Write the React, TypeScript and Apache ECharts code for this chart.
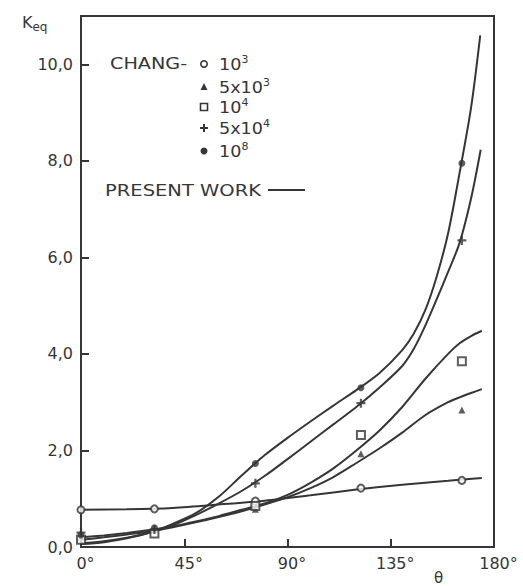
import React, { useEffect, useRef } from 'react';
import * as echarts from 'echarts';

// ---- data ----
const xTickValues = [0, 45, 90, 135, 180];
const yTickValues = [0, 2, 4, 6, 8, 10];

// CHANG data points (theta in degrees)
const changTheta = [0, 32, 76, 122, 166];
const chang1e3 = [0.77, 0.79, 0.95, 1.22, 1.38];
const chang5e3 = [0.2, 0.35, 0.78, 1.93, 2.84];
const chang1e4 = [0.15, 0.28, 0.85, 2.32, 3.85];
const chang5e4 = [0.3, 0.36, 1.32, 2.98, 6.35];
const chang1e8 = [0.25, 0.4, 1.73, 3.3, 7.95];

// PRESENT WORK curves [theta, Keq]
const work1e3: [number, number][] = [
  [0, 0.77], [20, 0.78], [40, 0.81], [60, 0.88], [80, 0.96], [100, 1.07], [120, 1.19], [140, 1.29],
  [160, 1.37], [174.7, 1.43],
];
const work5e3: [number, number][] = [
  [0, 0.15], [10, 0.2], [20, 0.26], [30, 0.32], [40, 0.41], [50, 0.51], [60, 0.62], [70, 0.74], [80, 0.88],
  [90, 1.03], [100, 1.22], [110, 1.45], [120, 1.74], [130, 2.04], [140, 2.37], [150, 2.73], [160, 3.0],
  [165, 3.1], [170, 3.19], [174.7, 3.27],
];
const work1e4: [number, number][] = [
  [0, 0.2], [10, 0.24], [20, 0.29], [30, 0.35], [40, 0.43], [50, 0.53], [60, 0.64], [70, 0.77], [80, 0.9],
  [90, 1.08], [100, 1.33], [110, 1.63], [120, 2.0], [130, 2.41], [140, 2.9], [150, 3.48], [160, 4.0],
  [165, 4.22], [170, 4.37], [174.7, 4.48],
];
const work5e4: [number, number][] = [
  [0, 0.08], [10, 0.12], [20, 0.19], [30, 0.3], [40, 0.45], [50, 0.66], [60, 0.9], [70, 1.16], [80, 1.47],
  [90, 1.82], [100, 2.18], [110, 2.54], [120, 2.9], [130, 3.3], [140, 3.75], [145, 4.1], [150, 4.58],
  [155, 5.13], [160, 5.7], [165, 6.3], [170, 7.22], [174.2, 8.23],
];
const work1e8: [number, number][] = [
  [0, 0.06], [10, 0.1], [20, 0.18], [30, 0.3], [40, 0.48], [50, 0.7], [60, 1.04], [70, 1.48], [80, 1.9],
  [90, 2.26], [100, 2.6], [110, 2.93], [120, 3.25], [130, 3.6], [140, 4.08], [145, 4.42], [150, 4.9],
  [155, 5.6], [160, 6.5], [165, 7.75], [170, 9.1], [174, 10.6],
];

const legendLabels = ['{n|10}{s|3}', '{n|5x10}{s|3}', '{n|10}{s|4}', '{n|5x10}{s|4}', '{n|10}{s|8}'];

const INK = '#363636';
const FONT = 'DejaVu Sans';
const PLUS = 'path://M3,0H5V3H8V5H5V8H3V5H0V3H3Z';

export default function App() {
  const ref = useRef<HTMLDivElement>(null);

  useEffect(() => {
    if (!ref.current) return;
    const chart = echarts.init(ref.current, null, { renderer: 'svg' });

    const pts = (vals: number[]) => changTheta.map((t, i) => [t, vals[i]]);
    const curves = [work1e3, work5e3, work1e4, work5e4, work1e8];

    const lineSeries = curves.map((c) => ({
      type: 'line',
      data: c,
      showSymbol: false,
      smooth: 0.3,
      silent: true,
      lineStyle: { color: INK, width: 2 },
      z: 2,
    }));

    const scatterDefs = [
      { vals: chang1e3, symbol: 'emptyCircle', size: 7 },
      { vals: chang5e3, symbol: 'triangle', size: 7 },
      { vals: chang1e4, symbol: 'emptyRect', size: 8 },
      { vals: chang5e4, symbol: PLUS, size: 9 },
      { vals: chang1e8, symbol: 'circle', size: 7 },
    ];
    const scatterSeries = scatterDefs.map((d) => ({
      type: 'scatter',
      data: pts(d.vals),
      symbol: d.symbol,
      symbolSize: d.size,
      clip: false,
      silent: true,
      itemStyle: { color: INK, borderWidth: 1.5 },
      z: 3,
    }));

    const rowY = [64, 87, 107, 128, 151];
    const markerX = 204;
    const txt = (text: string, x: number, y: number, size: number, scaleX = 1, rich?: any) => ({
      type: 'text',
      x,
      y,
      scaleX,
      style: {
        text,
        fontSize: size,
        fontFamily: FONT,
        fill: INK,
        align: 'left',
        textAlign: 'left',
        verticalAlign: 'middle',
        textVerticalAlign: 'middle',
        rich,
      },
    });
    const supRich = {
      n: { fontSize: 16, lineHeight: 20, fontFamily: FONT, color: INK },
      s: { fontSize: 10, lineHeight: 10, fontFamily: FONT, color: INK, verticalAlign: 'top' },
    };

    const graphic: any[] = [
      txt('{k|K}{s|eq}', 22, 22, 16, 1, {
        k: { fontSize: 16, lineHeight: 22, fontFamily: FONT, color: INK },
        s: { fontSize: 12, lineHeight: 12, fontFamily: FONT, color: INK, verticalAlign: 'bottom' },
      }),
      txt('CHANG-', 110, rowY[0], 16, 1.2),
      txt('PRESENT WORK', 105, 190, 16, 1.22),
      txt('θ', 434, 578, 15),
      { type: 'line', shape: { x1: 268, y1: 190, x2: 305, y2: 190 }, style: { stroke: INK, lineWidth: 2 } },
      { type: 'circle', shape: { cx: markerX, cy: rowY[0], r: 3.2 }, style: { fill: '#fff', stroke: INK, lineWidth: 1.6 } },
      {
        type: 'polygon',
        shape: { points: [[markerX, rowY[1] - 4], [markerX - 3.5, rowY[1] + 3], [markerX + 3.5, rowY[1] + 3]] },
        style: { fill: INK },
      },
      { type: 'rect', shape: { x: markerX - 3.5, y: rowY[2] - 3.5, width: 7, height: 7 }, style: { fill: '#fff', stroke: INK, lineWidth: 1.6 } },
      { type: 'line', shape: { x1: markerX - 4, y1: rowY[3], x2: markerX + 4, y2: rowY[3] }, style: { stroke: INK, lineWidth: 2 } },
      { type: 'line', shape: { x1: markerX, y1: rowY[3] - 4, x2: markerX, y2: rowY[3] + 4 }, style: { stroke: INK, lineWidth: 2 } },
      { type: 'circle', shape: { cx: markerX, cy: rowY[4], r: 3.5 }, style: { fill: INK } },
      ...legendLabels.map((l, i) => txt(l, 219, rowY[i], 16, 1.1, supRich)),
    ];

    chart.setOption({
      animation: false,
      backgroundColor: '#fff',
      grid: {
        left: 81,
        right: 29,
        top: 16,
        bottom: 39,
        show: true,
        borderColor: INK,
        borderWidth: 2,
        backgroundColor: 'transparent',
      },
      xAxis: {
        type: 'value',
        min: xTickValues[0],
        max: xTickValues[xTickValues.length - 1],
        interval: 45,
        axisLine: { show: true, lineStyle: { color: INK, width: 2 } },
        axisTick: { show: true, inside: true, length: 8, lineStyle: { color: INK, width: 2 } },
        splitLine: { show: false },
        axisLabel: {
          margin: 8,
          fontSize: 16,
          fontFamily: FONT,
          color: INK,
          padding: [0, 0, 0, 9],
          formatter: (v: number) => `${v}°`,
        },
      },
      yAxis: {
        type: 'value',
        min: yTickValues[0],
        max: 11,
        interval: 2,
        axisLine: { show: true, lineStyle: { color: INK, width: 2 } },
        axisTick: { show: true, inside: true, length: 8, lineStyle: { color: INK, width: 2 } },
        splitLine: { show: false },
        axisLabel: {
          margin: 8,
          fontSize: 16,
          fontFamily: FONT,
          color: INK,
          showMaxLabel: false,
          formatter: (v: number) => (yTickValues.includes(v) ? v.toFixed(1).replace('.', ',') : ''),
        },
      },
      series: [...lineSeries, ...scatterSeries],
      graphic,
    });

    return () => chart.dispose();
  }, []);

  return <div ref={ref} style={{ position: 'fixed', left: 0, top: 0, width: 523, height: 586 }} />;
}
